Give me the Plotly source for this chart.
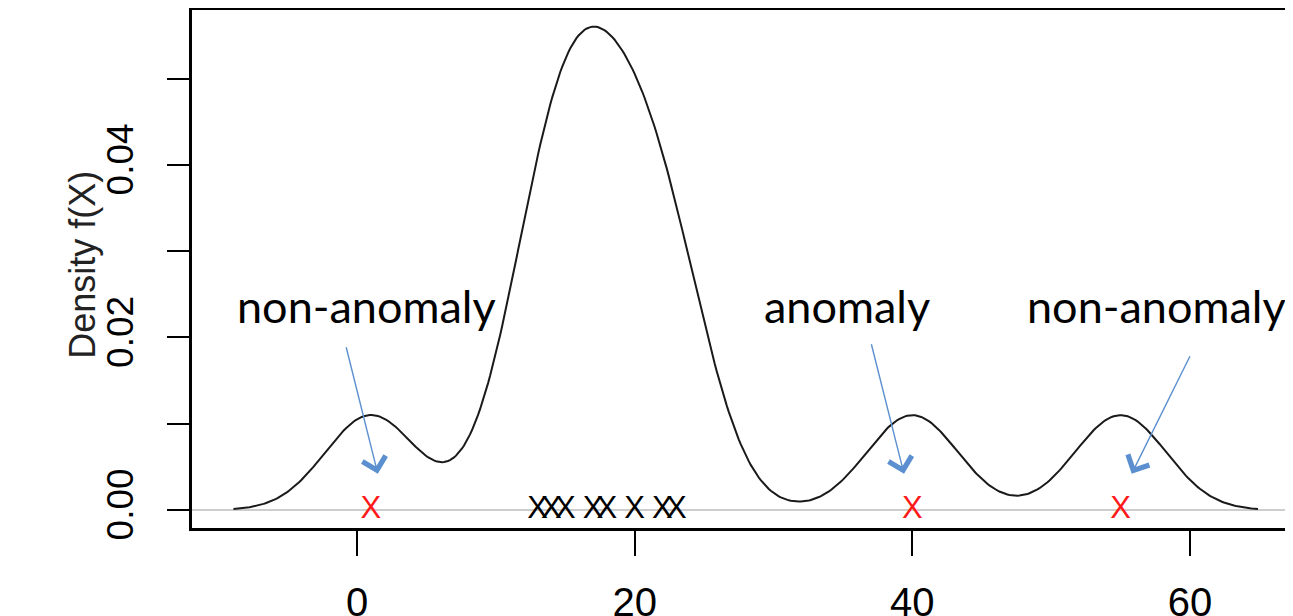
import numpy as np
import plotly.graph_objects as go

# Observed values
normal_x = [13, 14, 15, 17, 18, 20, 22, 23]
outlier_x = [1, 40, 55]
bandwidth = 3.3  # kernel bandwidth

x_tick_vals = [0, 20, 40, 60]
y_tick_vals = [0.0, 0.01, 0.02, 0.03, 0.04, 0.05]
y_tick_text = ["0.00", "", "0.02", "", "0.04", ""]

labels = ["non-anomaly", "anomaly", "non-anomaly"]
label_x = [0.65, 35.3, 57.6]
label_y = [0.0236, 0.0237, 0.0236]

# Gaussian kernel density estimate of all observations (as R's density())
all_x = np.array(normal_x + outlier_x, dtype=float)
grid = np.linspace(all_x.min() - 3 * bandwidth, all_x.max() + 3 * bandwidth, 512)
dens = np.exp(-0.5 * ((grid[:, None] - all_x[None, :]) / bandwidth) ** 2).sum(axis=1)
dens /= len(all_x) * bandwidth * np.sqrt(2 * np.pi)

fig = go.Figure()
fig.add_trace(go.Scatter(x=grid, y=dens, mode="lines",
                         line=dict(color="#1a1a1a", width=2), hoverinfo="skip"))
fig.add_trace(go.Scatter(x=normal_x, y=[0] * len(normal_x), mode="text", text=["X"] * len(normal_x),
                         textposition="middle center",
                         textfont=dict(family="Liberation Sans, Arial", size=31, color="black")))
fig.add_trace(go.Scatter(x=outlier_x, y=[0] * len(outlier_x), mode="text", text=["X"] * len(outlier_x),
                         textposition="middle center",
                         textfont=dict(family="Liberation Sans, Arial", size=31, color="#ff1a1a")))

fig.add_shape(type="line", xref="paper", x0=0, x1=1, yref="y", y0=0, y1=0,
              line=dict(color="#bdbdbd", width=1.5), layer="below")

annotations = []
for t, lx, ly in zip(labels, label_x, label_y):
    annotations.append(dict(x=lx, y=ly, xref="x", yref="y", text=t, showarrow=False,
                            font=dict(family="Lato, Open Sans, sans-serif", size=45, color="black")))

arrow_tips = [(1.5, 0.0042), (39.4, 0.0042), (55.8, 0.0042)]
arrow_offsets = [(-32, -128), (-33, -131), (59, -119)]
for (tx, ty), (ax, ay) in zip(arrow_tips, arrow_offsets):
    annotations.append(dict(x=tx, y=ty, xref="x", yref="y", ax=ax, ay=ay, text="",
                            showarrow=True, arrowhead=4, arrowsize=3.3, arrowwidth=1.4,
                            arrowcolor="#5b8fcf"))

annotations.append(dict(x=(75 - 184) / 1101, y=0.508, xref="paper", yref="paper", text="Density f(X)",
                        textangle=-90, showarrow=False, xanchor="center", yanchor="middle",
                        font=dict(family="Liberation Sans, Arial", size=36, color="#222")))

fig.update_layout(
    width=1285, height=608,
    margin=dict(l=184, r=0, t=2, b=88, autoexpand=False),
    paper_bgcolor="white", plot_bgcolor="white",
    showlegend=False,
    annotations=annotations,
    xaxis=dict(range=[-11.885, 67.42], tickvals=x_tick_vals, ticks="outside", ticklen=25,
               tickwidth=2, tickcolor="black", showline=True, linewidth=2.5, linecolor="black",
               mirror=True, showgrid=False, zeroline=False, ticklabelstandoff=12, automargin=False,
               tickfont=dict(family="Liberation Sans Narrow, Arial Narrow, Liberation Sans", size=40,
                             color="black")),
    yaxis=dict(range=[-0.00209, 0.05797], tickvals=y_tick_vals, ticktext=y_tick_text,
               ticks="outside", ticklen=22, tickwidth=2, tickcolor="black", tickangle=-90,
               showline=True, linewidth=2.5, linecolor="black", mirror=False,
               showgrid=False, zeroline=False, ticklabelstandoff=19, automargin=False,
               tickfont=dict(family="Liberation Sans Narrow, Arial Narrow, Liberation Sans", size=37,
                             color="black")),
)

fig.write_html("out.html")
